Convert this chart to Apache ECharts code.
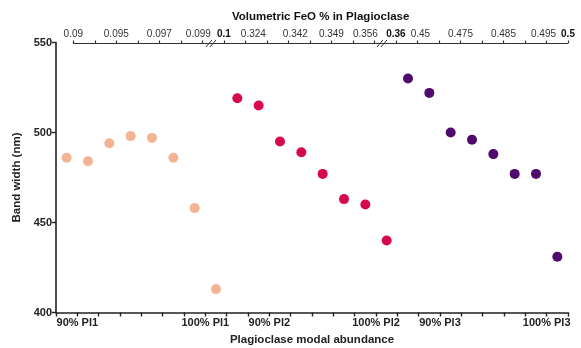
<!DOCTYPE html>
<html>
<head>
<meta charset="utf-8">
<script src="https://cdn.jsdelivr.net/npm/echarts@6/dist/echarts.min.js"></script>
<style>
html,body{margin:0;padding:0;background:#fff;}
#c{width:581px;height:348px;}
</style>
</head>
<body>
<div id="c"></div>
<script>
// ---- data ----
const pl1Values = [486, 484, 494, 498, 497, 486, 458, 413];
const pl2Values = [519, 515, 495, 489, 477, 463, 460, 440];
const pl3Values = [530, 522, 500, 496, 488, 477, 477, 431];
const bottomTickLabels = ['', '90% Pl1', '', '', '', '', '', '100% Pl1', '', '', '90% Pl2', '', '', '', '', '100% Pl2', '', '', '90% Pl3', '', '', '', '', '100% Pl3', ''];
const topTickLabels = ['0.09', '', '0.095', '', '0.097', '', '0.099', '0.1', '0.324', '', '0.342', '', '0.349', '', '0.356', '0.36', '0.45', '', '0.475', '', '0.485', '', '0.495', '0.5'];
const topBoldTicks = [7, 15, 23];
const topBreaks = [6.4, 14.35];
const yTicks = [400, 450, 500, 550];

// ---- style helpers ----
const topShift = {6: -4, 8: 8, 10: 7, 14: -9, 16: 3, 22: -3};
const font = "'Liberation Sans', Arial, Helvetica, sans-serif";

function pts(vals, offset) {
  return vals.map((v, i) => [offset + i + 0.5, v]);
}
const n1 = pl1Values.length, n2 = pl2Values.length;

const rich = {};
function topFormatter(value) {
  const k = Math.round(value);
  const t = topTickLabels[k];
  if (!t) return '';
  const bold = topBoldTicks.indexOf(k) >= 0;
  const s = topShift[k] || 0;
  const key = 's' + k;
  rich[key] = {
    fontFamily: font, fontSize: 10,
    fontWeight: bold ? 'bold' : 'normal',
    color: bold ? '#111' : '#333',
    padding: s >= 0 ? [0, 0, 0, 2 * s] : [0, -2 * s, 0, 0]
  };
  return '{' + key + '|' + t + '}';
}
for (let k = 0; k < topTickLabels.length; k++) topFormatter(k);

const chart = echarts.init(document.getElementById('c'), null, {renderer: 'canvas'});
const option = {
  backgroundColor: '#ffffff',
  animation: false,
  grid: [
    {left: 56, right: 13, top: 42.5, bottom: 35.5, containLabel: false, outerBoundsMode: 'none'},
    {left: 73.3, right: 13, top: 43, bottom: 35.5, containLabel: false, outerBoundsMode: 'none'}
  ],
  xAxis: [
    {
      type: 'value', gridIndex: 0, min: 0, max: bottomTickLabels.length - 1, interval: 1,
      position: 'bottom',
      name: 'Plagioclase modal abundance', nameLocation: 'middle', nameGap: 21,
      nameTextStyle: {fontFamily: font, fontSize: 11.5, fontWeight: 'bold', color: '#222'},
      axisLine: {show: true, onZero: false, lineStyle: {color: '#222', width: 1.6}},
      axisTick: {show: true, length: 4, lineStyle: {color: '#222', width: 1.4}},
      splitLine: {show: false},
      axisLabel: {
        showMinLabel: true, showMaxLabel: true, margin: 5,
        fontFamily: font, fontSize: 11, fontWeight: 'bold', color: '#222',
        formatter: v => bottomTickLabels[Math.round(v)] || ''
      }
    },
    {
      type: 'value', gridIndex: 1, min: 0, max: topTickLabels.length - 1, interval: 1,
      position: 'top',
      name: 'Volumetric FeO % in Plagioclase', nameLocation: 'middle', nameGap: 20,
      nameTextStyle: {fontFamily: font, fontSize: 11.5, fontWeight: 'bold', color: '#111'},
      axisLine: {show: true, onZero: false, lineStyle: {color: '#333', width: 1}},
      axisTick: {show: true, length: 2.5, lineStyle: {color: '#333', width: 1.2}},
      splitLine: {show: false},
      axisLabel: {
        showMinLabel: true, showMaxLabel: true, margin: 4,
        formatter: topFormatter, rich: rich
      }
    }
  ],
  yAxis: [
    {
      type: 'value', gridIndex: 0, min: yTicks[0], max: yTicks[yTicks.length - 1], interval: 50,
      name: 'Band width (nm)', nameLocation: 'middle', nameGap: 31,
      nameTextStyle: {fontFamily: font, fontSize: 11.5, fontWeight: 'bold', color: '#222'},
      axisLine: {show: true, onZero: false, lineStyle: {color: '#222', width: 1.6}},
      axisTick: {show: true, length: 4, lineStyle: {color: '#222', width: 1.4}},
      splitLine: {show: false},
      axisLabel: {fontFamily: font, fontSize: 11, fontWeight: 'bold', color: '#222', margin: 4}
    },
    {type: 'value', gridIndex: 1, min: 0, max: 1, show: false}
  ],
  series: [
    {type: 'scatter', name: 'Pl1', xAxisIndex: 0, yAxisIndex: 0, symbolSize: 10,
      itemStyle: {color: '#F4B395', opacity: 1}, data: pts(pl1Values, 0)},
    {type: 'scatter', name: 'Pl2', xAxisIndex: 0, yAxisIndex: 0, symbolSize: 10,
      itemStyle: {color: '#D6084F', opacity: 1}, data: pts(pl2Values, n1)},
    {type: 'scatter', name: 'Pl3', xAxisIndex: 0, yAxisIndex: 0, symbolSize: 10,
      itemStyle: {color: '#500A6E', opacity: 1}, data: pts(pl3Values, n1 + n2)}
  ]
};
chart.setOption(option);

// axis break marks on the top axis
const graphics = [];
topBreaks.forEach(b => {
  const p = chart.convertToPixel({xAxisIndex: 1, yAxisIndex: 1}, [b, 1]);
  const x = p[0], y = 43;
  [-2, 2].forEach(dx => {
    graphics.push({type: 'line', shape: {x1: x + dx - 3, y1: y + 4, x2: x + dx + 3, y2: y - 3},
      style: {stroke: '#333', lineWidth: 1}});
  });
});
chart.setOption({graphic: graphics});
</script>
</body>
</html>
